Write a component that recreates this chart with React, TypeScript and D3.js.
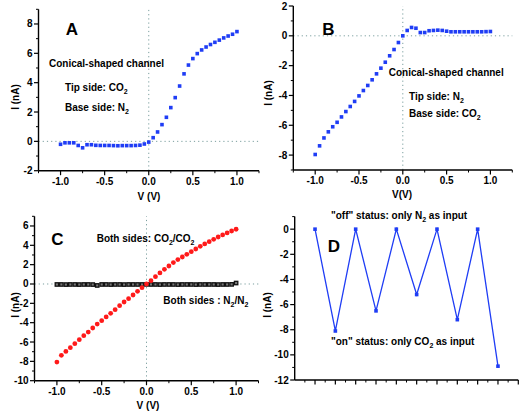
import React from "react";
import * as d3 from "d3";

const FONT = "'Liberation Sans', Arial, Helvetica, sans-serif";

const voltages = [
  -1.0, -0.95, -0.9, -0.85, -0.8, -0.75, -0.7, -0.65, -0.6, -0.55, -0.5, -0.45, -0.4, -0.35, -0.3,
  -0.25, -0.2, -0.15, -0.1, -0.05, 0, 0.05, 0.1, 0.15, 0.2, 0.25, 0.3, 0.35, 0.4, 0.45, 0.5, 0.55,
  0.6, 0.65, 0.7, 0.75, 0.8, 0.85, 0.9, 0.95, 1.0,
];

const currentA = [
  -0.2, -0.1, -0.1, -0.1, -0.28, -0.44, -0.23, -0.23, -0.27, -0.28, -0.28, -0.28, -0.29, -0.3, -0.29,
  -0.29, -0.29, -0.28, -0.26, -0.18, -0.05, 0.25, 0.64, 1.14, 1.64, 2.3, 2.98, 3.77, 4.6, 5.2, 5.64,
  5.98, 6.23, 6.43, 6.6, 6.75, 6.9, 7.05, 7.18, 7.3, 7.48,
];

const currentB = [
  -7.96, -7.38, -6.85, -6.44, -6.1, -5.8, -5.44, -5.08, -4.74, -4.4, -4.03, -3.67, -3.33, -2.95, -2.55,
  -2.17, -1.77, -1.34, -0.92, -0.45, 0, 0.36, 0.56, 0.51, 0.22, 0.22, 0.34, 0.36, 0.38, 0.36, 0.31,
  0.27, 0.27, 0.27, 0.27, 0.27, 0.27, 0.27, 0.27, 0.28, 0.29,
];

const currentCO2 = [
  -8.07, -7.38, -6.97, -6.59, -6.17, -5.76, -5.34, -4.97, -4.55, -4.14, -3.79, -3.41, -3.03, -2.66,
  -2.24, -1.86, -1.52, -1.14, -0.76, -0.38, 0, 0.34, 0.76, 1.14, 1.52, 1.86, 2.21, 2.52, 2.79, 3.07,
  3.34, 3.62, 3.9, 4.14, 4.38, 4.62, 4.86, 5.07, 5.28, 5.48, 5.66,
];

const currentN2 = [
  -0.05, -0.05, -0.06, -0.05, -0.05, -0.06, -0.05, -0.05, -0.06, -0.15, -0.05, -0.05, -0.06, -0.05,
  -0.05, -0.06, -0.05, -0.05, -0.05, -0.05, -0.04, -0.05, -0.05, -0.06, -0.05, -0.05, -0.05, -0.06,
  -0.05, -0.05, -0.05, -0.06, -0.05, -0.05, -0.05, -0.05, -0.06, -0.05, -0.05, -0.04, 0.1,
];

const switchIndex = [0, 1, 2, 3, 4, 5, 6, 7, 8, 9];
const switchCurrent = [0, -8.1, 0, -6.5, 0, -5.2, 0, -7.2, 0, -10.9];

const vTicks = [-1.0, -0.5, 0.0, 0.5, 1.0];

const BLUE = "#1f3df5";
const GUIDE = "#7a9e9e";

type AxisProps = {
  x: d3.ScaleLinear<number, number>;
  y: d3.ScaleLinear<number, number>;
  xMajor: number[];
  xMinor: number[];
  yMajor: number[];
  yMinor: number[];
  xLabels: boolean;
};

function Axes({ x, y, xMajor, xMinor, yMajor, yMinor, xLabels }: AxisProps) {
  const [x0, x1] = x.range();
  const [y0, y1] = y.range();
  const fmtX = (v: number) => (v < 0 ? "-" : "") + Math.abs(v).toFixed(1);
  return (
    <g>
      <line x1={x0} x2={x0} y1={y0} y2={y1} stroke="#000" strokeWidth={1.4} />
      <line x1={x0} x2={x1} y1={y0} y2={y0} stroke="#000" strokeWidth={1.4} />
      {yMinor.map((v) => (
        <line key={"ym" + v} x1={x0 - 2.5} x2={x0} y1={y(v)} y2={y(v)} stroke="#000" strokeWidth={1} />
      ))}
      {yMajor.map((v) => (
        <g key={"yM" + v}>
          <line x1={x0 - 4.5} x2={x0} y1={y(v)} y2={y(v)} stroke="#000" strokeWidth={1.2} />
          <text x={x0 - 6} y={y(v)} dy="0.35em" textAnchor="end" fontSize={10} fontWeight="bold" fontFamily={FONT}>
            {v}
          </text>
        </g>
      ))}
      {xMinor.map((v) => (
        <line key={"xm" + v} x1={x(v)} x2={x(v)} y1={y0} y2={y0 + 2.5} stroke="#000" strokeWidth={1} />
      ))}
      {xMajor.map((v) => (
        <g key={"xM" + v}>
          <line x1={x(v)} x2={x(v)} y1={y0} y2={y0 + 4.5} stroke="#000" strokeWidth={1.2} />
          {xLabels && (
            <text x={x(v)} y={y0 + 14} textAnchor="middle" fontSize={10} fontWeight="bold" fontFamily={FONT}>
              {fmtX(v)}
            </text>
          )}
        </g>
      ))}
    </g>
  );
}

function Guides({ x, y }: { x: d3.ScaleLinear<number, number>; y: d3.ScaleLinear<number, number> }) {
  const [x0, x1] = x.range();
  const [y0, y1] = y.range();
  return (
    <g stroke={GUIDE} strokeWidth={1} strokeDasharray="1.2,3">
      <line x1={x0} x2={x1} y1={y(0)} y2={y(0)} />
      <line x1={x(0)} x2={x(0)} y1={y0} y2={y1} />
    </g>
  );
}

const T = (props: any) => (
  <text fontFamily={FONT} fontWeight="bold" fontSize={10} {...props} />
);

const Sub = ({ children }: { children: any }) => (
  <tspan fontSize={7} dy={3}>
    {children}
  </tspan>
);

const range = (a: number, b: number, s: number) => d3.range(a, b + s / 2, s);

export default function App() {
  // Panel A
  const xA = d3.scaleLinear().domain([-1.25, 1.25]).range([38.5, 259]);
  const yA = d3.scaleLinear().domain([-2, 9]).range([170.7, 9.3]);
  // Panel B
  const xB = d3.scaleLinear().domain([-1.25, 1.25]).range([293.3, 512.3]);
  const yB = d3.scaleLinear().domain([-9, 2]).range([170, 6]);
  // Panel C
  const xC = d3.scaleLinear().domain([-1.25, 1.25]).range([34.5, 258.5]);
  const yC = d3.scaleLinear().domain([-10, 7]).range([380.7, 216.3]);
  // Panel D
  const xD = d3.scaleLinear().domain([-1, 10]).range([294.7, 518.3]);
  const yD = d3.scaleLinear().domain([-12, 1]).range([380, 216.6]);

  const vMinor = range(-1.25, 1.25, 0.25).filter((v) => !vTicks.some((t) => Math.abs(t - v) < 1e-6));

  const sq = 3.6;
  const lineD = d3
    .line<number>()
    .x((_, i) => xD(switchIndex[i]))
    .y((d) => yD(d));

  return (
    <svg width={521} height={415} style={{ position: "absolute", left: 0, top: 0, background: "#fff" }}>
      <rect width={521} height={415} fill="#fff" />

      {/* Panel A */}
      <Guides x={xA} y={yA} />
      <Axes x={xA} y={yA} xMajor={vTicks} xMinor={vMinor} yMajor={range(-2, 8, 2)} yMinor={range(-1, 9, 2)} xLabels />
      {currentA.map((v, i) => (
        <rect key={"a" + i} x={xA(voltages[i]) - sq / 2} y={yA(v) - sq / 2} width={sq} height={sq} fill={BLUE} />
      ))}
      <T x={72} y={35} fontSize={17} textAnchor="middle">A</T>
      <T x={49} y={66.5}>Conical-shaped channel</T>
      <T x={65} y={90.5}>Tip side: CO<Sub>2</Sub></T>
      <T x={65} y={111}>Base side: N<Sub>2</Sub></T>
      <T x={149} y={200} textAnchor="middle">V (V)</T>
      <T transform="translate(15,97) rotate(-90)" textAnchor="middle" dy="0.35em">I (nA)</T>

      {/* Panel B */}
      <Guides x={xB} y={yB} />
      <Axes x={xB} y={yB} xMajor={vTicks} xMinor={vMinor} yMajor={range(-8, 2, 2)} yMinor={range(-9, 1, 2)} xLabels />
      {currentB.map((v, i) => (
        <rect key={"b" + i} x={xB(voltages[i]) - sq / 2} y={yB(v) - sq / 2} width={sq} height={sq} fill={BLUE} />
      ))}
      <T x={328.5} y={35} fontSize={17} textAnchor="middle">B</T>
      <T x={388.7} y={75.5}>Conical-shaped channel</T>
      <T x={409} y={100}>Tip side: N<Sub>2</Sub></T>
      <T x={409} y={116.5}>Base side: CO<Sub>2</Sub></T>
      <T x={402} y={197.5} textAnchor="middle">V(V)</T>
      <T transform="translate(268,93) rotate(-90)" textAnchor="middle" dy="0.35em">I (nA)</T>

      {/* Panel C */}
      <Guides x={xC} y={yC} />
      <Axes x={xC} y={yC} xMajor={vTicks} xMinor={vMinor} yMajor={range(-10, 6, 2)} yMinor={range(-9, 7, 2)} xLabels />
      {currentN2.map((v, i) => (
        <rect
          key={"n" + i}
          x={xC(voltages[i]) - 1.7}
          y={yC(v) - 1.7}
          width={3.4}
          height={3.4}
          fill="#777"
          stroke="#111"
          strokeWidth={1.3}
        />
      ))}
      {currentCO2.map((v, i) => (
        <circle key={"c" + i} cx={xC(voltages[i])} cy={yC(v)} r={2.4} fill="#ff1a1a" />
      ))}
      <T x={57.5} y={244.5} fontSize={17} textAnchor="middle">C</T>
      <T x={96.7} y={241.5}>Both sides: CO<Sub>2</Sub><tspan dy={-3}>/CO</tspan><Sub>2</Sub></T>
      <T x={163.3} y={304}>Both sides : N<Sub>2</Sub><tspan dy={-3}>/N</tspan><Sub>2</Sub></T>
      <T x={148} y={409} textAnchor="middle">V (V)</T>
      <T transform="translate(15,305) rotate(-90)" textAnchor="middle" dy="0.35em">I (nA)</T>

      {/* Panel D */}
      <Axes
        x={xD}
        y={yD}
        xMajor={range(0, 10, 1)}
        xMinor={range(-0.5, 9.5, 1)}
        yMajor={range(-12, 0, 2)}
        yMinor={range(-11, 1, 2)}
        xLabels={false}
      />
      <path d={lineD(switchCurrent) || ""} fill="none" stroke={BLUE} strokeWidth={1.3} />
      {switchCurrent.map((v, i) => (
        <rect key={"d" + i} x={xD(switchIndex[i]) - sq / 2} y={yD(v) - sq / 2} width={sq} height={sq} fill={BLUE} />
      ))}
      <T x={334} y={252} fontSize={17} textAnchor="middle">D</T>
      <T x={331} y={219}>"off" status: only N<Sub>2</Sub><tspan dy={-3}> as input</tspan></T>
      <T x={331} y={345}>"on" status: only CO<Sub>2</Sub><tspan dy={-3}> as input</tspan></T>
      <T transform="translate(267,305) rotate(-90)" textAnchor="middle" dy="0.35em">I (nA)</T>
    </svg>
  );
}
